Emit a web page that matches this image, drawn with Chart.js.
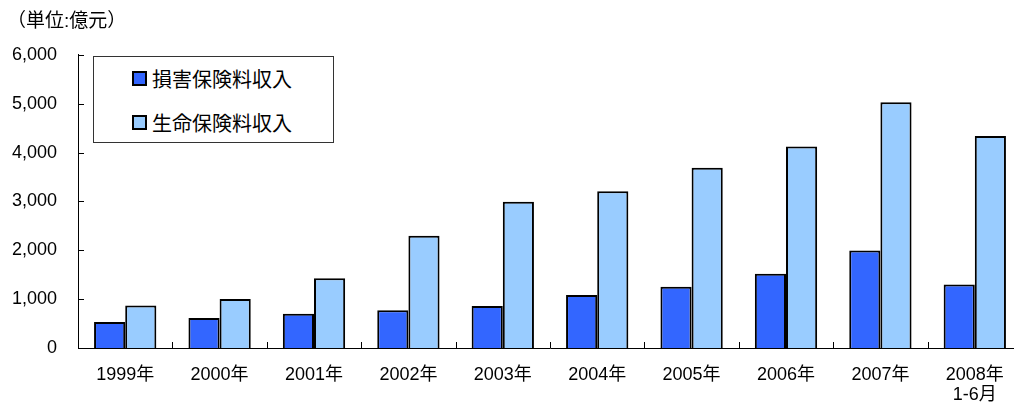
<!DOCTYPE html>
<html>
<head>
<meta charset="utf-8">
<script src="https://cdn.jsdelivr.net/npm/chart.js@4"></script>
<style>
  html, body { margin: 0; padding: 0; background: #fff; overflow: hidden; }
  #wrap { position: relative; width: 1014px; height: 405px; overflow: hidden; }
  #legend {
    position: absolute; left: 93px; top: 56px; width: 239px; height: 85px;
    border: 1px solid #333; background: #fff;
    font-family: 'Noto Sans CJK JP', sans-serif; font-size: 20px; color: #000;
  }
  .item { position: absolute; left: 38px; height: 24px; display: flex; align-items: center; }
  .mark { width: 11px; height: 11px; border: 2px solid #000; margin-right: 5px; }
</style>
</head>
<body>
<div id="wrap">
  <!-- the original plot runs a little past the right edge of the picture -->
  <canvas id="chart" width="1024" height="405"></canvas>
  <div id="legend"></div>
</div>
<script>
// values in 億元
const categories = ['1999年', '2000年', '2001年', '2002年', '2003年', '2004年', '2005年', '2006年', '2007年', ['2008年', '1-6月']];
const nonLifePremiums = [530, 612, 700, 775, 860, 1085, 1255, 1520, 1995, 1297];
const lifePremiums = [868, 1003, 1428, 2295, 2992, 3208, 3688, 4122, 5030, 4337];
const seriesLabels = ['損害保険料収入', '生命保険料収入'];
const seriesColors = ['#3366FF', '#99CCFF'];
const yTicks = [0, 1000, 2000, 3000, 4000, 5000, 6000];

const fontFamily = "'Liberation Sans', 'Noto Sans CJK JP', sans-serif";

// inward tick marks on both axes, like the original
const innerTicks = {
  id: 'innerTicks',
  afterDraw(chart) {
    const { ctx, scales: { x, y } } = chart;
    ctx.save();
    ctx.strokeStyle = '#000';
    ctx.lineWidth = 1;
    ctx.beginPath();
    y.ticks.forEach((t, i) => {
      const py = Math.round(y.getPixelForTick(i)) + 0.5;
      ctx.moveTo(x.left, py);
      ctx.lineTo(x.left + 6, py);
    });
    for (let i = 1; i < categories.length; i++) {
      const px = Math.round(x.getPixelForValue(i - 0.5)) + 0.5;
      ctx.moveTo(px, y.bottom);
      ctx.lineTo(px, y.bottom - 6);
    }
    ctx.stroke();
    ctx.restore();
  }
};

const datasets = [nonLifePremiums, lifePremiums].map((data, i) => ({
  label: seriesLabels[i],
  data,
  backgroundColor: seriesColors[i],
  borderColor: '#000',
  borderWidth: 2,
  borderSkipped: 'bottom',
  categoryPercentage: 0.66,
  barPercentage: 1.0
}));

new Chart(document.getElementById('chart'), {
  type: 'bar',
  data: { labels: categories, datasets },
  options: {
    responsive: false,
    animation: false,
    layout: { padding: { left: 7, right: 2, top: 0, bottom: 0 } },
    plugins: {
      legend: { display: false },
      tooltip: { enabled: false },
      title: {
        display: true,
        text: '（単位:億元）',
        align: 'start',
        color: '#000',
        font: { family: fontFamily, size: 19, weight: 'normal' },
        padding: { top: 10, bottom: 22 }
      }
    },
    scales: {
      x: {
        grid: { display: false, drawTicks: false },
        border: { color: '#000', width: 1 },
        ticks: { color: '#000', padding: 17, font: { family: fontFamily, size: 18, lineHeight: 1.1 } },
        afterFit: s => { s.height = 57; }
      },
      y: {
        min: 0,
        max: 6000,
        afterBuildTicks: s => { s.ticks = yTicks.map(v => ({ value: v })); },
        grid: { display: false, drawTicks: false },
        border: { color: '#000', width: 1 },
        ticks: {
          color: '#000',
          padding: 21,
          font: { family: fontFamily, size: 18 },
          callback: v => v.toLocaleString('en-US')
        },
        afterFit: s => { s.width = 71; }
      }
    }
  },
  plugins: [innerTicks]
});

// legend box inside the plot, built from the same series arrays
const legendEl = document.getElementById('legend');
seriesLabels.forEach((label, i) => {
  const item = document.createElement('div');
  item.className = 'item';
  item.style.top = (9 + i * 44) + 'px';
  item.innerHTML = '<span class="mark" style="background:' + seriesColors[i] + '"></span>' + label;
  legendEl.appendChild(item);
});
</script>
</body>
</html>
